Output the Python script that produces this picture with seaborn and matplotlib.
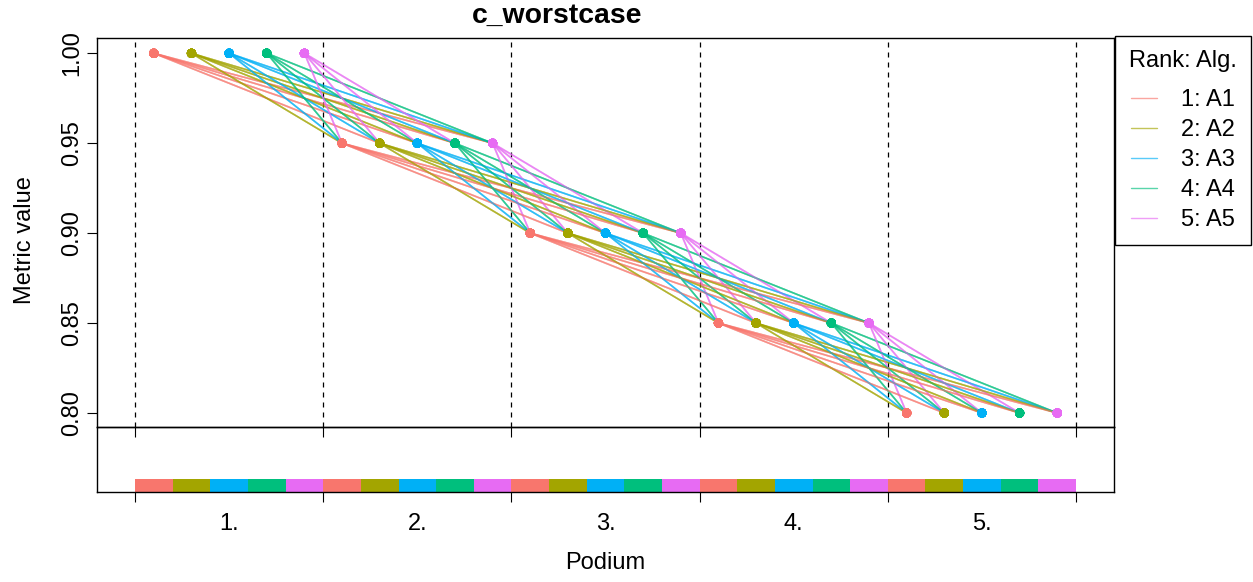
import numpy as np
import pandas as pd
import matplotlib
matplotlib.use("Agg")
import matplotlib.pyplot as plt
import seaborn as sns
from matplotlib.collections import LineCollection
from matplotlib.lines import Line2D

# ---------------- data ----------------
algorithms = ["A1", "A2", "A3", "A4", "A5"]
alg_colors = ["#F8766D", "#A3A500", "#00B0F6", "#00BF7D", "#E76BF3"]
podium_labels = ["1.", "2.", "3.", "4.", "5."]
rank_values = [1.00, 0.95, 0.90, 0.85, 0.80]      # metric value reached at podium place 1..5
y_ticks = [0.80, 0.85, 0.90, 0.95, 1.00]
y_tick_labels = ["0.80", "0.85", "0.90", "0.95", "1.00"]
title = "c_worstcase"
x_label = "Podium"
y_label = "Metric value"
legend_title = "Rank: Alg."

# each test case: algorithm number at podium place 1,2,3,4,5
cases = [
    "12345", "12354", "12435", "12453", "12534", "12543",
    "13245", "13254", "13425", "13452", "13524", "13542",
    "14235", "14253", "14325", "14352", "14523", "14532",
    "15234", "15243", "15324", "15342", "15423", "15432",
    "21345", "21354", "21435", "21453", "21534", "21543",
    "23145", "23154", "23415", "23451", "23514", "23541",
    "24135", "24153", "24315", "24351", "24513", "24531",
    "25134", "25143", "25314", "25341", "25413", "25431",
    "31245", "31254", "31425", "31452", "31524", "31542",
    "32145", "32154", "32415", "32451", "32514", "32541",
    "34125", "34152", "34215", "34251", "34512", "34521",
    "35124", "35142", "35214", "35241", "35412", "35421",
    "41235", "41253", "41325", "41352", "41523", "41532",
    "42135", "42153", "42315", "42351", "42513", "42531",
    "43125", "43152", "43215", "43251", "43512", "43521",
    "45123", "45132", "45213", "45231", "45312", "45321",
    "51234", "51243", "51324", "51342", "51423", "51432",
    "52134", "52143", "52314", "52341", "52413", "52431",
    "53124", "53142", "53214", "53241", "53412", "53421",
    "54123", "54132", "54213", "54231", "54312", "54321",
]

# ---------------- style ----------------
sns.set_theme(style="white")
plt.rcParams["font.family"] = ["Liberation Sans", "DejaVu Sans"]
plt.rcParams["axes.edgecolor"] = "black"
plt.rcParams["axes.linewidth"] = 1.0
plt.rcParams["text.color"] = "black"
plt.rcParams["axes.labelcolor"] = "black"
plt.rcParams["xtick.color"] = "black"
plt.rcParams["ytick.color"] = "black"

n = len(algorithms)
W, H = 1253, 582
fig = plt.figure(figsize=(W / 100, H / 100), dpi=100)

x0, x1 = 97.4, 1113.7
top_y0, top_y1 = 38.0, 427.4
bot_y1 = 492.0
ax = fig.add_axes([x0 / W, 1 - top_y1 / H, (x1 - x0) / W, (top_y1 - top_y0) / H])
axb = fig.add_axes([x0 / W, 1 - bot_y1 / H, (x1 - x0) / W, (bot_y1 - top_y1) / H])
axb.patch.set_visible(False)

# ---------------- build long table ----------------
rows = []
for ci, c in enumerate(cases):
    for place, ch in enumerate(c):
        a = int(ch) - 1
        rows.append({"case": ci, "place": place, "algorithm": algorithms[a],
                     "alg_idx": a, "value": rank_values[place],
                     "xpos": place * n + a + 0.5})
df = pd.DataFrame(rows)

# place borders
borders = [i * n for i in range(n + 1)]
for b in borders:
    ax.axvline(b, color="black", lw=0.9, ls=(0, (4, 4)), zorder=1)

# lines connecting a case's algorithms in podium order (segment color = start algorithm)
segs, segcols = [], []
for ci, g in df.groupby("case", sort=False):
    g = g.sort_values("place")
    xs, ys, al = g["xpos"].values, g["value"].values, g["alg_idx"].values
    for k in range(len(xs) - 1):
        segs.append([(xs[k], ys[k]), (xs[k + 1], ys[k + 1])])
        segcols.append(matplotlib.colors.to_rgba(alg_colors[al[k]], 0.24))
lc = LineCollection(segs, colors=segcols, linewidths=1.15, zorder=2)
ax.add_collection(lc)

sns.scatterplot(data=df, x="xpos", y="value", hue="algorithm", hue_order=algorithms,
                palette=alg_colors, s=44, linewidth=0, edgecolor="none",
                legend=False, ax=ax, zorder=3)

ax.set_xlim(-1, n * n + 1)
ax.set_ylim(0.792, 1.0085)
ax.set_xlabel("")
ax.set_ylabel("")
ax.set_xticks(borders)
ax.set_xticklabels([])
ax.set_yticks(y_ticks)
ax.set_yticklabels(y_tick_labels, rotation=90, va="center", fontsize=17)
ax.tick_params(axis="both", which="major", direction="out", length=7.2, width=0.8,
               color="black", labelcolor="black", left=True, bottom=True, pad=3)
for s in ax.spines.values():
    s.set_color("black")
    s.set_linewidth(1.0)

# ---------------- bottom: podium frequencies ----------------
counts = df.groupby(["place", "alg_idx"]).size().reset_index(name="count")
for _, r in counts.iterrows():
    p, a = int(r["place"]), int(r["alg_idx"])
    axb.bar(p * n + a + 0.5, r["count"], width=1.0, color=alg_colors[a],
            edgecolor="none", linewidth=0)
axb.set_xlim(-1, n * n + 1)
axb.set_ylim(0, len(cases))
axb.set_yticks([])
axb.set_xticks(borders)
axb.set_xticklabels([])
axb.set_xticks([p * n + n / 2 for p in range(n)], minor=True)
axb.set_xticklabels(podium_labels, minor=True, fontsize=17)
axb.tick_params(axis="x", which="major", direction="out", length=7.2, width=0.8,
                color="black", bottom=True)
axb.tick_params(axis="x", which="minor", length=0, pad=15, labelcolor="black")
for s in axb.spines.values():
    s.set_color("black")
    s.set_linewidth(1.0)

# ---------------- texts ----------------
fig.text(557 / W, 1 - 16 / H, title, ha="center", va="center",
         fontsize=20.4, fontweight="bold", color="black")
fig.text(605 / W, 1 - 563 / H, x_label, ha="center", va="center", fontsize=17, color="black")
fig.text(25 / W, 1 - 240 / H, y_label, ha="center", va="center", rotation=90,
         fontsize=17, color="black")

handles = [Line2D([0], [0], color=c, lw=1.0, alpha=0.65) for c in alg_colors]
labels = [f"{i + 1}: {a}" for i, a in enumerate(algorithms)]
leg = fig.legend(handles, labels, title=legend_title, loc="upper left",
                 bbox_to_anchor=(1115 / W, 1 - 36 / H), frameon=True,
                 fancybox=False, edgecolor="black", framealpha=1, fontsize=17,
                 title_fontsize=17, borderpad=0.6, labelspacing=0.34,
                 handlelength=1.1, handletextpad=1.0, borderaxespad=0)
leg.get_frame().set_linewidth(1.0)
leg._legend_box.sep = 12
for t in leg.get_texts():
    t.set_color("black")
leg.get_title().set_color("black")

fig.savefig("out.png", dpi=100)
